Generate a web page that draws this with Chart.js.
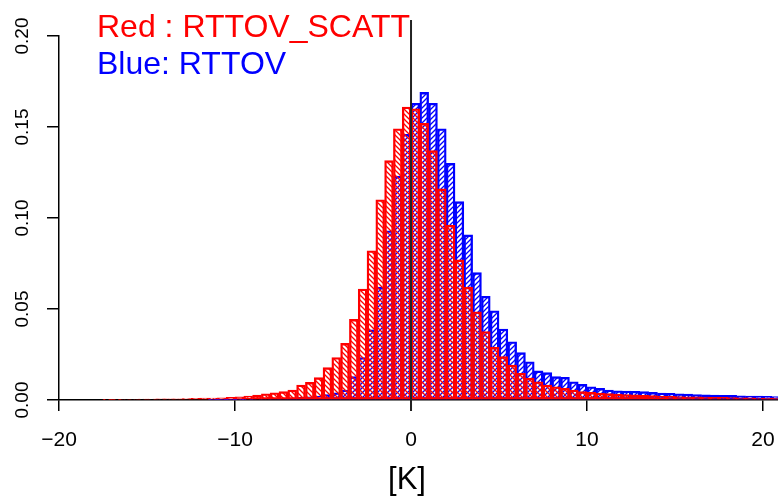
<!DOCTYPE html>
<html>
<head>
<meta charset="utf-8">
<script src="https://cdn.jsdelivr.net/npm/chart.js@4.4.1/dist/chart.umd.min.js"></script>
<style>
  html, body { margin: 0; padding: 0; background: #fff; }
  #wrap { width: 778px; height: 496px; }
</style>
</head>
<body>
<div id="wrap"><canvas id="hist" width="778" height="496"></canvas></div>
<script>
// bin centres [K], bins are 0.5 K wide
const binCentres = [
  -17.25, -16.75, -16.25, -15.75, -15.25, -14.75, -14.25, -13.75, -13.25, -12.75,
  -12.25, -11.75, -11.25, -10.75, -10.25, -9.75, -9.25, -8.75, -8.25, -7.75,
  -7.25, -6.75, -6.25, -5.75, -5.25, -4.75, -4.25, -3.75, -3.25, -2.75,
  -2.25, -1.75, -1.25, -0.75, -0.25, 0.25, 0.75, 1.25, 1.75, 2.25,
  2.75, 3.25, 3.75, 4.25, 4.75, 5.25, 5.75, 6.25, 6.75, 7.25,
  7.75, 8.25, 8.75, 9.25, 9.75, 10.25, 10.75, 11.25, 11.75, 12.25,
  12.75, 13.25, 13.75, 14.25, 14.75, 15.25, 15.75, 16.25, 16.75, 17.25,
  17.75, 18.25, 18.75, 19.25, 19.75, 20.25, 20.75
];

// Red : RTTOV_SCATT (density)
const scattDensity = [
  0.0003, 0.0003, 0.0004, 0.0004, 0.0005, 0.0005, 0.0006, 0.0006, 0.0007, 0.0008,
  0.0009, 0.0010, 0.0011, 0.0012, 0.0015, 0.0018, 0.0022, 0.0027, 0.0034, 0.0040,
  0.0046, 0.0055, 0.0082, 0.0097, 0.0123, 0.0178, 0.0233, 0.0311, 0.0443, 0.061,
  0.082, 0.110, 0.1315, 0.149, 0.161, 0.160, 0.152, 0.137, 0.116, 0.096,
  0.077, 0.062, 0.0485, 0.0376, 0.029, 0.0238, 0.0192, 0.0147, 0.012, 0.010,
  0.0082, 0.0073, 0.0064, 0.0055, 0.0046, 0.0042, 0.0038, 0.0035, 0.0032, 0.0030,
  0.0028, 0.0026, 0.0024, 0.0022, 0.0020, 0.0019, 0.0018, 0.0017, 0.0016, 0.0015,
  0.0014, 0.0013, 0.0012, 0.0012, 0.0011, 0.0010, 0.0010
];

// Blue: RTTOV (density)
const rttovDensity = [
  0, 0, 0, 0, 0, 0, 0, 0, 0, 0,
  0, 0, 0.0001, 0.0001, 0.0001, 0.0002, 0.0003, 0.0004, 0.0005, 0.0007,
  0.0009, 0.0011, 0.0014, 0.0017, 0.0022, 0.0030, 0.0040, 0.0055, 0.0128, 0.0233,
  0.0385, 0.062, 0.093, 0.123, 0.146, 0.163, 0.169, 0.163, 0.149, 0.130,
  0.109, 0.0907, 0.070, 0.057, 0.049, 0.039, 0.032, 0.026, 0.021, 0.016,
  0.015, 0.0128, 0.0125, 0.010, 0.0086, 0.0073, 0.0064, 0.0055, 0.0051, 0.0049,
  0.0048, 0.0046, 0.0042, 0.0038, 0.0037, 0.0034, 0.0033, 0.0030, 0.0028, 0.0027,
  0.0026, 0.0025, 0.0023, 0.0022, 0.0021, 0.0020, 0.0019
];

const xTickStep = 10;
const yTickStep = 0.05;
const legendLines = ['Red : RTTOV_SCATT', 'Blue: RTTOV'];
const xTitle = '[K]';

const FONT = '"Liberation Sans", Arial, Helvetica, sans-serif';

// hatch fill like R's density/angle shading
function hatch(colour, up) {
  const s = 5;
  const c = document.createElement('canvas');
  c.width = s; c.height = s;
  const g = c.getContext('2d');
  g.strokeStyle = colour;
  g.lineWidth = 1.3;
  g.beginPath();
  if (up) {
    g.moveTo(0, s); g.lineTo(s, 0);
    g.moveTo(-1, 1); g.lineTo(1, -1);
    g.moveTo(s - 1, s + 1); g.lineTo(s + 1, s - 1);
  } else {
    g.moveTo(0, 0); g.lineTo(s, s);
    g.moveTo(-1, s - 1); g.lineTo(1, s + 1);
    g.moveTo(s - 1, -1); g.lineTo(s + 1, 1);
  }
  g.stroke();
  return g.createPattern(c, 'repeat');
}

const extras = {
  id: 'extras',
  afterDatasetsDraw(chart) {
    const { ctx, chartArea, scales: { x } } = chart;
    const x0 = x.getPixelForValue(0);
    ctx.save();
    ctx.strokeStyle = '#222';
    ctx.lineWidth = 2;
    ctx.beginPath();
    ctx.moveTo(x0, chartArea.top - 16);
    ctx.lineTo(x0, chartArea.bottom + 11);
    ctx.stroke();
    ctx.restore();
  },
  afterDraw(chart) {
    const { ctx, scales: { y } } = chart;
    ctx.save();
    // y tick labels, rotated like R's default las=0
    ctx.fillStyle = '#000';
    ctx.font = '19px ' + FONT;
    ctx.textAlign = 'center';
    ctx.textBaseline = 'alphabetic';
    y.ticks.forEach(t => {
      const py = y.getPixelForValue(t.value);
      ctx.save();
      ctx.translate(28, py);
      ctx.rotate(-Math.PI / 2);
      ctx.fillText(t.value.toFixed(2), 0, 0);
      ctx.restore();
    });
    // x axis title
    ctx.font = '31px ' + FONT;
    ctx.fillText(xTitle, 407, 489);
    // legend text
    ctx.font = '32px ' + FONT;
    ctx.textAlign = 'left';
    ctx.fillStyle = '#ff0000';
    ctx.fillText(legendLines[0], 97, 37);
    ctx.fillStyle = '#0000ff';
    ctx.fillText(legendLines[1], 97, 74);
    ctx.restore();
  }
};

const ctx = document.getElementById('hist').getContext('2d');
new Chart(ctx, {
  type: 'bar',
  data: {
    datasets: [
      {
        label: 'RTTOV_SCATT',
        data: binCentres.map((c, i) => ({ x: c, y: scattDensity[i] })),
        backgroundColor: hatch('#ff0000', false),
        borderColor: '#ff0000',
        borderWidth: 1.7,
        borderSkipped: false,
        barPercentage: 1,
        categoryPercentage: 1,
        grouped: false
      },
      {
        label: 'RTTOV',
        data: binCentres.map((c, i) => ({ x: c, y: rttovDensity[i] })),
        backgroundColor: hatch('#0000ff', true),
        borderColor: '#0000ff',
        borderWidth: 1.7,
        borderSkipped: false,
        barPercentage: 1,
        categoryPercentage: 1,
        grouped: false
      }
    ]
  },
  options: {
    responsive: false,
    animation: false,
    layout: { padding: { top: 36, left: 0, right: 0, bottom: 0 } },
    plugins: { legend: { display: false }, tooltip: { enabled: false } },
    scales: {
      x: {
        type: 'linear',
        min: -20,
        max: 20.85,
        offset: false,
        ticks: {
          stepSize: xTickStep,
          includeBounds: false,
          autoSkip: false,
          maxRotation: 0,
          padding: 17,
          color: '#000',
          font: { family: FONT, size: 21 },
          callback: v => (v < 0 ? '\u2212' + Math.abs(v) : String(v))
        },
        grid: { drawOnChartArea: false, drawTicks: true, tickLength: 11, color: '#000', lineWidth: 1.5, offset: false },
        border: { display: true, color: '#000', width: 1.5 },
        afterFit(scale) {
          scale.height = 96;
          scale.paddingLeft = 0;
          scale.paddingRight = 0;
        }
      },
      y: {
        type: 'linear',
        min: 0,
        max: 0.2,
        ticks: { display: false, stepSize: yTickStep },
        grid: { drawOnChartArea: false, drawTicks: true, tickLength: 12, color: '#000', lineWidth: 1.5 },
        border: { display: true, color: '#000', width: 1.5 },
        afterFit(scale) {
          scale.width = 59;
          scale.paddingTop = 0;
          scale.paddingBottom = 0;
        }
      }
    }
  },
  plugins: [extras]
});
</script>
</body>
</html>
